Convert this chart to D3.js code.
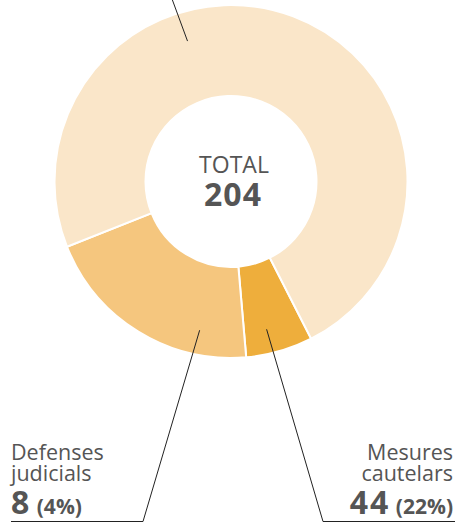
<!DOCTYPE html>
<html>
<head>
<meta charset="utf-8">
<script src="https://cdn.jsdelivr.net/npm/d3@7"></script>
<style>
  body { margin: 0; background: #fff; }
  text { font-family: "Open Sans", "Noto Sans", sans-serif; fill: #555; }
</style>
</head>
<body>
<div id="wrapper"></div>
<script>
// segment sizes as drawn, clockwise from the dark slice
const segmentNames = ["Mesures cautelars", "Defenses judicials", "Altres"]
const segmentValues = [12.5, 41.5, 150]
const segmentColors = ["#eeae3c", "#f5c67e", "#fae6c9"]

// label texts
const labelLines = [["Mesures", "cautelars"], ["Defenses", "judicials"]]
const labelCounts = [44, 8]
const labelShares = ["22%", "4%"]
const totalLabel = "TOTAL"
const totalValue = 204

function drawDonut() {
  const dimensions = {
    width: 455,
    height: 523,
    cx: 231,
    cy: 181.5,
    outer: 176.5,
    inner: 85.5,
  }

  const svg = d3.select("#wrapper")
    .append("svg")
      .attr("width", dimensions.width)
      .attr("height", dimensions.height)

  const startAngle = 153 * Math.PI / 180
  const pie = d3.pie()
    .sort(null)
    .value(d => d)
    .startAngle(startAngle)
    .endAngle(startAngle + 2 * Math.PI)
  const arcs = pie(segmentValues)

  const arc = d3.arc()
    .innerRadius(dimensions.inner)
    .outerRadius(dimensions.outer)

  const g = svg.append("g")
      .attr("transform", `translate(${dimensions.cx},${dimensions.cy})`)

  g.selectAll("path")
    .data(arcs)
    .join("path")
      .attr("d", arc)
      .attr("fill", (d, i) => segmentColors[i])
      .attr("stroke", "#fff")
      .attr("stroke-width", 2)

  // leader lines: where in the slice they start, and where they land
  const leaders = [
    { seg: 0, frac: 0.61, r: 152, end: [323, 521.5], tail: 455 },
    { seg: 1, frac: 0.23, r: 152, end: [143, 521.5], tail: 11 },
    { seg: 2, frac: 0.357, r: 147, end: [168, -12], tail: null },
  ]
  const pointAt = (a, r) => [
    dimensions.cx + r * Math.sin(a),
    dimensions.cy - r * Math.cos(a),
  ]
  leaders.forEach(l => {
    const s = arcs[l.seg]
    const a = s.startAngle + (s.endAngle - s.startAngle) * l.frac
    const p = pointAt(a, l.r)
    const pts = [p, l.end]
    if (l.tail !== null) pts.push([l.tail, l.end[1]])
    svg.append("path")
        .attr("d", d3.line()(pts))
        .attr("fill", "none")
        .attr("stroke", "#222")
        .attr("stroke-width", 1)
  })

  // centre
  svg.append("text")
      .attr("x", dimensions.cx + 3)
      .attr("y", 173)
      .attr("text-anchor", "middle")
      .style("font-size", "23px")
      .text(totalLabel)
  svg.append("text")
      .attr("x", dimensions.cx + 2)
      .attr("y", 206)
      .attr("text-anchor", "middle")
      .style("font-size", "32px")
      .style("font-weight", 700)
      .style("letter-spacing", "1px")
      .text(totalValue)

  // side labels
  const labelPos = [
    { x: 453, anchor: "end" },
    { x: 11, anchor: "start" },
  ]
  labelPos.forEach((p, i) => {
    const t = svg.append("text")
        .attr("text-anchor", p.anchor)
        .style("font-size", "21.5px")
    labelLines[i].forEach((line, j) => {
      t.append("tspan")
          .attr("x", p.x)
          .attr("y", 460 + j * 21)
          .text(line)
    })
    const n = svg.append("text")
        .attr("x", p.x)
        .attr("y", 514)
        .attr("text-anchor", p.anchor)
    n.append("tspan")
        .style("font-size", "32px")
        .style("font-weight", 700)
        .style("letter-spacing", "2px")
        .text(labelCounts[i])
    n.append("tspan")
        .style("font-size", "21px")
        .style("font-weight", 700)
        .text(` (${labelShares[i]})`)
  })
}

drawDonut()
</script>
</body>
</html>
